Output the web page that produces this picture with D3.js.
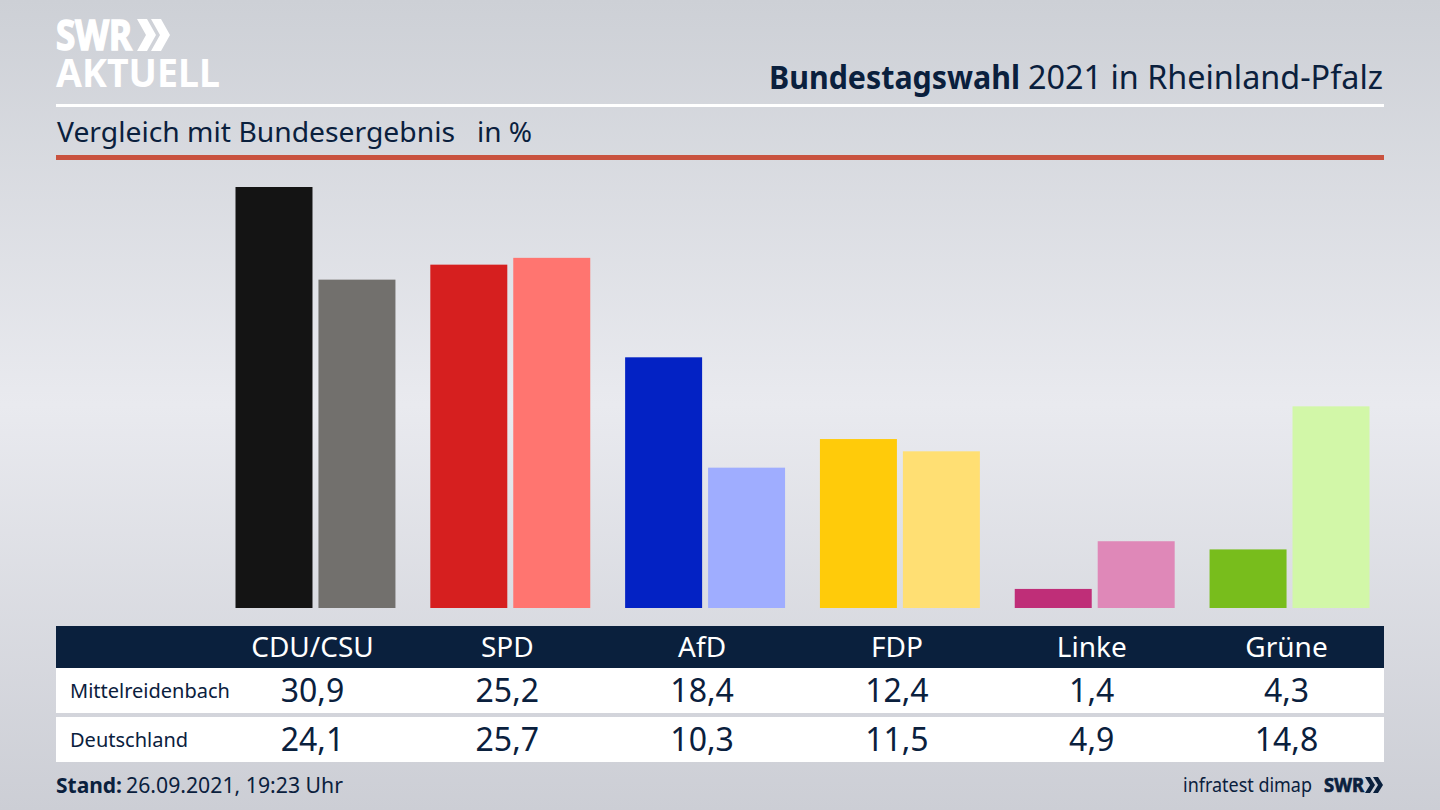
<!DOCTYPE html>
<html>
<head>
<meta charset="utf-8">
<script src="https://cdn.jsdelivr.net/npm/d3@7"></script>
<style>
html, body { margin: 0; padding: 0; overflow: hidden; }
text { font-family: "Noto Sans", sans-serif; fill: #0a203d; }
</style>
</head>
<body>
<script>
var parties = ['CDU/CSU', 'SPD', 'AfD', 'FDP', 'Linke', 'Grüne'];
var seriesNames = ['Mittelreidenbach', 'Deutschland'];
var mittelreidenbach = [30.9, 25.2, 18.4, 12.4, 1.4, 4.3];
var deutschland = [24.1, 25.7, 10.3, 11.5, 4.9, 14.8];
var darkColors = ['#141414', '#d61f1f', '#0322c4', '#ffcb0a', '#bf2e78', '#78bd1c'];
var lightColors = ['#72706d', '#ff7570', '#9fadff', '#ffdf73', '#df88b8', '#d2f7a8'];

var W = 1440, H = 810;
var navy = '#0a203d';
var fmt = function (v) { return v.toFixed(1).replace('.', ','); };

var svg = d3.select('body').append('svg')
  .attr('width', W).attr('height', H)
  .attr('style', 'display:block;');

var defs = svg.append('defs');
var grad = defs.append('linearGradient').attr('id', 'bg')
  .attr('x1', 0).attr('y1', 0).attr('x2', 0).attr('y2', 1);
grad.append('stop').attr('offset', '0%').attr('stop-color', '#cdd0d6');
grad.append('stop').attr('offset', '50%').attr('stop-color', '#e9eaef');
grad.append('stop').attr('offset', '100%').attr('stop-color', '#ccced5');
svg.append('rect').attr('width', W).attr('height', H).attr('fill', 'url(#bg)');

// Logo
var logo = svg.append('g').attr('class', 'logo');
logo.append('text').attr('x', 56).attr('y', 50).text('SWR')
  .style('fill', '#fff').style('stroke', '#fff').style('stroke-width', 1.6)
  .style('font-size', '42px').style('font-weight', 700)
  .attr('textLength', 76).attr('lengthAdjust', 'spacingAndGlyphs');
logo.append('text').attr('x', 56).attr('y', 87).text('AKTUELL')
  .style('fill', '#fff').style('font-size', '40px').style('font-weight', 700)
  .attr('textLength', 164).attr('lengthAdjust', 'spacingAndGlyphs');
[0, 1].forEach(function (i) {
  var x = 137 + i * 14;
  logo.append('path')
    .attr('d', 'M' + x + ',19 h10 l9,16 l-9,16 h-10 l9,-16 z')
    .attr('fill', '#fff');
});

// Header
svg.append('text').attr('x', 769).attr('y', 89)
  .style('font-size', '33px').style('font-weight', 700)
  .attr('textLength', 251).attr('lengthAdjust', 'spacingAndGlyphs')
  .text('Bundestagswahl');
svg.append('text').attr('x', 1028).attr('y', 89)
  .style('font-size', '33px')
  .attr('textLength', 355).attr('lengthAdjust', 'spacingAndGlyphs')
  .text('2021 in Rheinland-Pfalz');
svg.append('rect').attr('x', 56).attr('y', 104).attr('width', 1328).attr('height', 3).attr('fill', '#fff');
svg.append('text').attr('x', 57).attr('y', 142).style('font-size', '28px')
  .attr('textLength', 398).attr('lengthAdjust', 'spacingAndGlyphs')
  .text('Vergleich mit Bundesergebnis');
svg.append('text').attr('x', 477).attr('y', 142).style('font-size', '28px').text('in %');
svg.append('rect').attr('x', 56).attr('y', 155).attr('width', 1328).attr('height', 5).attr('fill', '#c9523f');

// Bars
var x0 = d3.scaleBand().domain(parties).range([235.5, 1369.5]).paddingInner(0.179).paddingOuter(0);
var x1 = d3.scaleBand().domain(seriesNames).range([0, x0.bandwidth()]).paddingInner(0.072);
var y = d3.scaleLinear().domain([0, 30.9]).range([608, 187]);

var rows = [
  { name: seriesNames[0], values: mittelreidenbach, colors: darkColors },
  { name: seriesNames[1], values: deutschland, colors: lightColors }
];

rows.forEach(function (row) {
  svg.append('g').selectAll('rect')
    .data(row.values)
    .enter().append('rect')
    .attr('x', function (d, i) { return x0(parties[i]) + x1(row.name); })
    .attr('y', function (d) { return y(d); })
    .attr('width', x1.bandwidth())
    .attr('height', function (d) { return y(0) - y(d); })
    .attr('fill', function (d, i) { return row.colors[i]; });
});

// Table
var labelX = function (p) { return x0(p) + x0.bandwidth() / 2 - 3; };
svg.append('rect').attr('x', 56).attr('y', 626).attr('width', 1328).attr('height', 42).attr('fill', navy);
svg.append('g').selectAll('text')
  .data(parties)
  .enter().append('text')
  .attr('x', labelX)
  .attr('y', 657)
  .attr('text-anchor', 'middle')
  .style('fill', '#fff')
  .style('font-size', '28px')
  .text(function (d) { return d; });

var rowY = d3.scaleBand().domain(seriesNames).range([668, 762]).paddingInner(0.082);
rows.forEach(function (row) {
  var top = rowY(row.name);
  svg.append('rect').attr('x', 56).attr('y', top).attr('width', 1328).attr('height', rowY.bandwidth()).attr('fill', '#fff');
  svg.append('text').attr('x', 70).attr('y', top + 29.5).style('font-size', '20px').text(row.name);
  svg.append('g').selectAll('text')
    .data(row.values)
    .enter().append('text')
    .attr('x', function (d, i) { return labelX(parties[i]); })
    .attr('y', top + 34)
    .attr('text-anchor', 'middle')
    .style('font-size', '32px')
    .text(fmt);
});

// Footer
svg.append('text').attr('x', 56).attr('y', 793).style('font-size', '22px').style('font-weight', 700)
  .attr('textLength', 66).attr('lengthAdjust', 'spacingAndGlyphs').text('Stand:');
svg.append('text').attr('x', 126).attr('y', 793).style('font-size', '22px')
  .attr('textLength', 217).attr('lengthAdjust', 'spacingAndGlyphs').text('26.09.2021, 19:23 Uhr');
svg.append('text').attr('x', 1183).attr('y', 792).style('font-size', '20px')
  .attr('textLength', 129).attr('lengthAdjust', 'spacingAndGlyphs').text('infratest dimap');
svg.append('text').attr('x', 1324).attr('y', 792).style('font-size', '20px').style('font-weight', 700)
  .style('stroke', navy).style('stroke-width', 0.7)
  .attr('textLength', 40).attr('lengthAdjust', 'spacingAndGlyphs').text('SWR');
[0, 1].forEach(function (i) {
  var x = 1365 + i * 8;
  svg.append('path')
    .attr('d', 'M' + x + ',777 h5 l5,8 l-5,8 h-5 l5,-8 z')
    .attr('fill', navy);
});
</script>
</body>
</html>
